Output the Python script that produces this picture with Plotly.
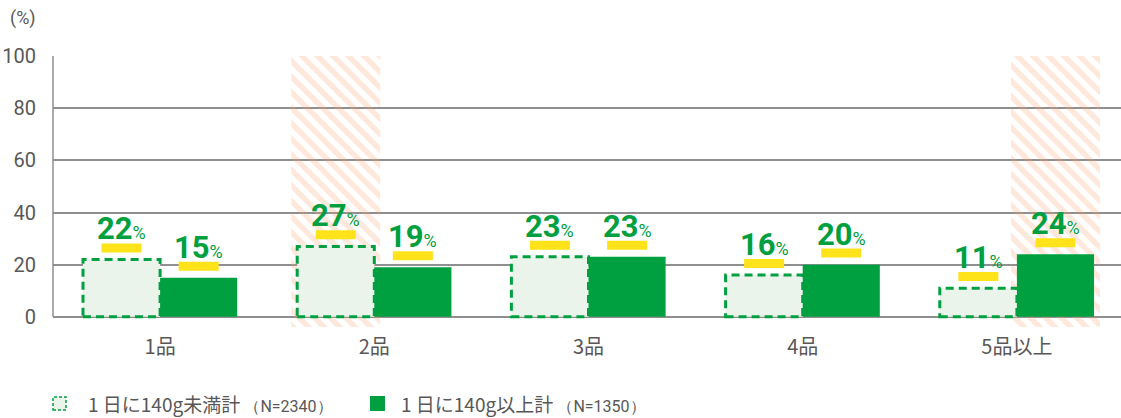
import plotly.graph_objects as go

# ---- data -------------------------------------------------------------
categories = ["1品", "2品", "3品", "4品", "5品以上"]
under_140 = [22, 27, 23, 16, 11]   # 1日に140g未満計
over_140 = [15, 19, 23, 20, 24]    # 1日に140g以上計
series_labels = ["1 日に140g未満計", "1 日に140g以上計"]
series_n = [2340, 1350]
# categories whose column is shaded, and which series bar it sits behind
highlight_cat = ["2品", "5品以上"]
highlight_series = [0, 1]
y_ticks = [0, 20, 40, 60, 80, 100]

# ---- styling ------------------------------------------------------------
GREEN = "#00A040"
LIGHT = "#EAF4EA"
YELLOW = "#FFE31A"
GREY_TXT = "#595757"
GRID = "#8f8f8f"
NARROW = "Roboto, sans-serif"
JP = "Noto Sans CJK JP"

W, H = 1121, 418
L, R, T, B = 53, 0, 56, 91
PW, PH = W - L - R, H - T - B

BAR_W = 0.36
bar_offset = [-BAR_W, 0.0]
bar_center = [-BAR_W / 2, BAR_W / 2]
TAG_W, TAG_GAP, TAG_H = 0.187, 2.7, 3.45
HATCH_W = 0.415
Y_MIN = -3.9


def px_x(px):
    return (px - L) / PW


def px_y(py):
    return (H - B - py) / PH


series = [under_140, over_140]
fig = go.Figure()

# shaded column behind the highlighted bars
fig.add_trace(go.Bar(
    x=highlight_cat,
    y=[100 - Y_MIN] * len(highlight_cat),
    base=Y_MIN,
    width=HATCH_W,
    offset=[bar_center[s] - HATCH_W / 2 for s in highlight_series],
    marker=dict(
        color="rgba(0,0,0,0)",
        line=dict(width=0),
        pattern=dict(shape="\\", fgcolor="rgba(250,160,110,0.5)",
                     bgcolor="rgba(0,0,0,0)", size=11, solidity=0.5),
    ),
    hoverinfo="skip",
))

# main bars
fig.add_trace(go.Bar(x=categories, y=under_140, width=BAR_W, offset=bar_offset[0],
                     marker=dict(color=LIGHT, line=dict(width=0)), name=series_labels[0]))
fig.add_trace(go.Bar(x=categories, y=over_140, width=BAR_W, offset=bar_offset[1],
                     marker=dict(color=GREEN, line=dict(width=0)), name=series_labels[1]))

# yellow tags above each bar
for s, vals in enumerate(series):
    fig.add_trace(go.Bar(
        x=categories,
        y=[TAG_H] * len(vals),
        base=[v + TAG_GAP for v in vals],
        width=TAG_W,
        offset=bar_center[s] - TAG_W / 2,
        marker=dict(color=YELLOW, line=dict(width=0)),
        hoverinfo="skip",
    ))

shapes = []
# dashed outline of the lighter series
for i, v in enumerate(under_140):
    shapes.append(dict(type="rect", xref="x", yref="y",
                       x0=i + bar_offset[0], x1=i + bar_offset[0] + BAR_W, y0=0, y1=v,
                       line=dict(color=GREEN, width=3, dash="8px,5px"), layer="above"))
# left axis line (from 0 to 100 only)
shapes.append(dict(type="line", xref="paper", yref="y", x0=0, x1=0, y0=0, y1=100,
                   line=dict(color=GRID, width=1.5)))

annotations = []
# value labels
for s, vals in enumerate(series):
    for i, v in enumerate(vals):
        annotations.append(dict(
            x=i + bar_center[s], y=v + TAG_GAP + TAG_H, xref="x", yref="y",
            text=f"<b>{v}</b><span style='font-size:18px'>%</span>",
            showarrow=False, yanchor="bottom", xanchor="center", yshift=-6,
            font=dict(family=NARROW, size=31, color=GREEN),
        ))

# unit label
annotations.append(dict(x=px_x(8), y=px_y(18), xref="paper", yref="paper",
                        text="(%)", showarrow=False, xanchor="left", yanchor="middle",
                        font=dict(family=NARROW, size=18, color=GREY_TXT)))

# legend
legend_x = [53, 370]
text_x = [86, 399]
for s in range(2):
    x0 = legend_x[s]
    if s == 0:
        shapes.append(dict(type="rect", xref="paper", yref="paper",
                           x0=px_x(x0), x1=px_x(x0 + 13), y0=px_y(410), y1=px_y(397),
                           fillcolor=LIGHT, line=dict(color=GREEN, width=1.5, dash="3px,2px")))
    else:
        shapes.append(dict(type="rect", xref="paper", yref="paper",
                           x0=px_x(x0), x1=px_x(x0 + 15), y0=px_y(411), y1=px_y(396),
                           fillcolor=GREEN, line=dict(width=0)))
    annotations.append(dict(
        x=px_x(text_x[s]), y=px_y(403), xref="paper", yref="paper",
        text=f"{series_labels[s]} <span style='font-family:{NARROW};font-size:16px'>（N={series_n[s]}）</span>",
        showarrow=False, xanchor="left", yanchor="middle",
        font=dict(family=JP, size=19, color=GREY_TXT),
    ))

fig.update_layout(
    width=W, height=H,
    margin=dict(l=L, r=R, t=T, b=B, pad=0),
    paper_bgcolor="white", plot_bgcolor="white",
    barmode="overlay",
    showlegend=False,
    shapes=shapes,
    annotations=annotations,
    xaxis=dict(type="category", categoryorder="array", categoryarray=categories,
               range=[-0.5, 4.486], showgrid=False, zeroline=False, showline=False,
               ticks="", ticklabelstandoff=6,
               tickfont=dict(family=JP, size=20, color=GREY_TXT)),
    yaxis=dict(range=[Y_MIN, 100], tickvals=y_ticks, showgrid=True, gridcolor=GRID,
               gridwidth=1.5, zeroline=False, showline=False, ticks="",
               ticklabelstandoff=16,
               tickfont=dict(family=NARROW, size=20, color=GREY_TXT)),
)

fig.write_html("out.html")
